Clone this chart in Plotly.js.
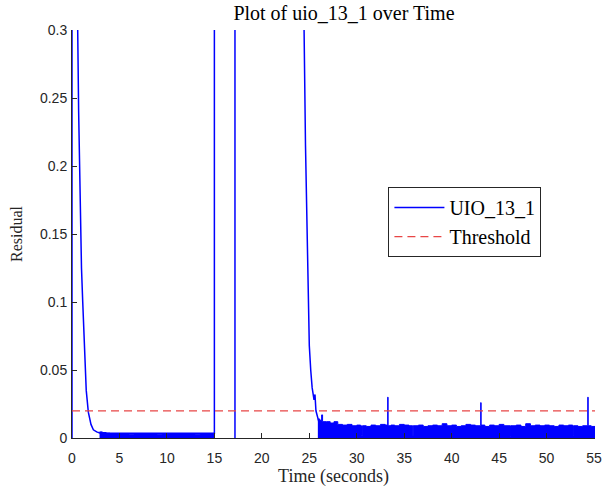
<!DOCTYPE html>
<html>
<head>
<meta charset="utf-8">
<script src="https://cdn.plot.ly/plotly-3.0.1.min.js"></script>
<style>html,body{margin:0;padding:0;background:#fff;}#chart{width:603px;height:491px;}</style>
</head>
<body>
<div id="chart"></div>
<script>
// Main residual trace (decays, jumps; values above 0.3 are off-chart)
const mainTime = [0, 0, 0.55, 0.6, 0.7, 0.8, 0.9, 1.0, 1.13, 1.25, 1.37, 1.5, 1.72, 2.0, 2.25, 2.6, 3.0, 15.0, 15.0, 17.17, 17.17, 17.17, 24.35, 24.45, 24.6, 24.7, 24.83, 25.0, 25.15, 25.3, 25.5, 25.6, 25.7, 25.85, 26.0];
const mainValue = [0, 1, 1, 0.30, 0.24, 0.19, 0.152, 0.125, 0.10, 0.075, 0.05, 0.035, 0.019, 0.010, 0.006, 0.0045, 0.0035, 0.0035, 1, 1, 0, 1, 1, 0.30, 0.215, 0.17, 0.111, 0.068, 0.05, 0.037, 0.028, 0.032, 0.02, 0.016, 0.012];

// Noise band envelope, first quiet period
const band1Time = [2.9, 3.2, 3.6, 4.0, 4.5, 5.0, 5.5, 6.0, 6.5, 7.0, 7.5, 8.0, 8.5, 9.0, 9.5, 10.0, 10.5, 11.0, 11.5, 12.0, 12.5, 13.0, 13.5, 14.0, 14.5, 15.0];
const band1Value = [0.0045, 0.004, 0.0035, 0.0032, 0.003, 0.0033, 0.003, 0.0028, 0.0031, 0.003, 0.0029, 0.0032, 0.003, 0.0028, 0.0031, 0.003, 0.0033, 0.003, 0.0029, 0.0031, 0.003, 0.0028, 0.003, 0.0031, 0.003, 0.003];

// Noise band envelope, second quiet period (with spikes and dips)
const band2Time = [25.9, 26.1, 26.3, 26.4, 26.8, 27.2, 27.6, 28.0, 28.5, 29.0, 29.5, 30.0, 30.4, 30.5, 30.6, 31.0, 31.5, 32.0, 32.5, 33.0, 33.22, 33.26, 33.3, 33.6, 34.0, 34.5, 35.0, 35.5, 35.85, 35.9, 35.95, 36.5, 37.0, 37.5, 38.0, 38.5, 39.0, 39.5, 40.0, 40.5, 41.0, 41.5, 42.0, 42.5, 43.02, 43.06, 43.1, 43.5, 44.0, 44.5, 45.0, 45.5, 46.15, 46.2, 46.25, 46.8, 47.3, 47.8, 48.3, 48.8, 49.3, 49.8, 50.3, 50.8, 51.3, 51.8, 52.3, 52.75, 52.8, 52.85, 53.3, 53.8, 54.3, 54.34, 54.38, 54.7, 55.1];
const band2Value = [0.014, 0.013, 0.017, 0.012, 0.012, 0.011, 0.012, 0.010, 0.0095, 0.010, 0.009, 0.0095, 0.009, 0.002, 0.009, 0.0085, 0.0095, 0.009, 0.010, 0.0095, 0.009, 0.030, 0.009, 0.0095, 0.009, 0.010, 0.0095, 0.009, 0.009, 0.002, 0.009, 0.0095, 0.0085, 0.009, 0.0095, 0.009, 0.0105, 0.009, 0.0095, 0.0085, 0.009, 0.010, 0.0095, 0.009, 0.009, 0.026, 0.0095, 0.0085, 0.0095, 0.009, 0.010, 0.009, 0.009, 0.001, 0.009, 0.0095, 0.0085, 0.0105, 0.009, 0.0095, 0.009, 0.0095, 0.009, 0.0085, 0.0095, 0.009, 0.0095, 0.009, 0.002, 0.009, 0.0085, 0.009, 0.009, 0.030, 0.009, 0.0085, 0.008];

// Threshold
const thresholdTime = [0, 55.1];
const thresholdValue = [0.02, 0.02];

// Tick labels
const xTickVals = [0, 5, 10, 15, 20, 25, 30, 35, 40, 45, 50, 55];
const xTickText = ['0', '5', '10', '15', '20', '25', '30', '35', '40', '45', '50', '55'];
const yTickVals = [0, 0.05, 0.1, 0.15, 0.2, 0.25, 0.3];
const yTickText = ['0', '0.05', '0.1', '0.15', '0.2', '0.25', '0.3'];

const blue = '#0000FF';
const traces = [
  {x: band1Time, y: band1Value, type: 'scatter', mode: 'lines', line: {color: blue, width: 1, shape: 'hv'}, fill: 'tozeroy', fillcolor: blue, showlegend: false, hoverinfo: 'skip'},
  {x: band2Time, y: band2Value, type: 'scatter', mode: 'lines', line: {color: blue, width: 1, shape: 'hv'}, fill: 'tozeroy', fillcolor: blue, showlegend: false, hoverinfo: 'skip'},
  {x: mainTime, y: mainValue, type: 'scatter', mode: 'lines', name: 'UIO_13_1', line: {color: blue, width: 1.5}},
  {x: thresholdTime, y: thresholdValue, type: 'scatter', mode: 'lines', name: 'Threshold', line: {color: 'rgb(232,70,70)', width: 1.2, dash: '8px,5px'}}
];

const axisFont = {family: 'Liberation Sans, Arial, sans-serif', size: 14, color: '#262626'};
const layout = {
  width: 603, height: 491,
  margin: {l: 72, r: 8, t: 30, b: 53},
  paper_bgcolor: '#ffffff', plot_bgcolor: '#ffffff',
  title: {text: 'Plot of uio_13_1 over Time', font: {family: 'Liberation Serif, serif', size: 20, color: '#000'}, x: 0.52, xref: 'paper', y: 0.974, yref: 'container', yanchor: 'middle'},
  xaxis: {
    range: [0, 55.1], showgrid: false, zeroline: false, showline: true, linecolor: '#262626', linewidth: 1,
    ticks: 'inside', ticklen: 5, tickcolor: '#262626', tickwidth: 1, ticklabelstandoff: 7,
    tickvals: xTickVals, ticktext: xTickText, tickfont: axisFont,
    title: {text: 'Time (seconds)', font: {family: 'Liberation Serif, serif', size: 18, color: '#262626'}, standoff: 4}
  },
  yaxis: {
    range: [0, 0.3], showgrid: false, zeroline: false, showline: true, linecolor: '#262626', linewidth: 1,
    ticks: 'inside', ticklen: 5, tickcolor: '#262626', tickwidth: 1, ticklabelstandoff: 1,
    tickvals: yTickVals, ticktext: yTickText, tickfont: axisFont,
    title: {text: 'Residual', font: {family: 'Liberation Serif, serif', size: 16, color: '#262626'}, standoff: 13}
  },
  legend: {
    x: 0.605, y: 0.615, xanchor: 'left', yanchor: 'top',
    bgcolor: '#ffffff', bordercolor: '#262626', borderwidth: 1,
    font: {family: 'Liberation Serif, serif', size: 20, color: '#000'},
    itemwidth: 50, tracegroupgap: 0
  },
  showlegend: true
};

Plotly.newPlot('chart', traces, layout, {displayModeBar: false, staticPlot: true});
</script>
</body>
</html>
